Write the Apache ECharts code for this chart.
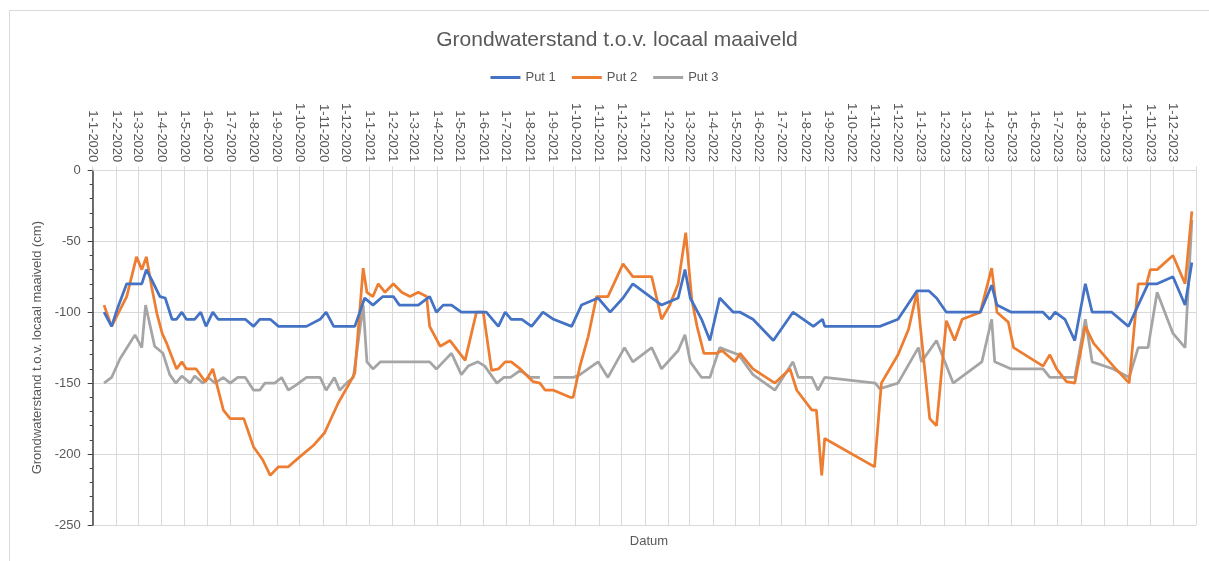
<!DOCTYPE html>
<html>
<head>
<meta charset="utf-8">
<script src="https://cdn.jsdelivr.net/npm/echarts@6/dist/echarts.min.js"></script>
<style>
  html, body { margin: 0; padding: 0; background: #fff; }
  #chart { width: 1209px; height: 561px; }
</style>
</head>
<body>
<div id="chart"></div>
<script>
const seriesNames = ['Put 1', 'Put 2', 'Put 3'];
const axisStart = '2020-01-01';
const axisEnd = '2024-01-01';

const put1Dates = ['2020-01-16','2020-01-26','2020-02-03','2020-02-15','2020-03-06','2020-03-12','2020-03-19','2020-03-30','2020-04-06','2020-04-15','2020-04-21','2020-04-28','2020-05-04','2020-05-15','2020-05-23','2020-05-30','2020-06-08','2020-06-15','2020-07-21','2020-08-01','2020-08-09','2020-08-23','2020-09-03','2020-10-10','2020-10-28','2020-11-05','2020-11-15','2020-12-13','2020-12-26','2021-01-06','2021-01-19','2021-02-02','2021-02-10','2021-03-07','2021-03-22','2021-03-31','2021-04-09','2021-04-20','2021-05-03','2021-06-05','2021-06-21','2021-06-30','2021-07-08','2021-07-22','2021-08-04','2021-08-19','2021-09-02','2021-09-26','2021-10-09','2021-10-31','2021-11-16','2021-12-03','2021-12-16','2022-01-23','2022-02-14','2022-02-23','2022-03-02','2022-03-17','2022-03-28','2022-04-10','2022-04-28','2022-05-07','2022-05-24','2022-06-20','2022-07-16','2022-08-12','2022-08-24','2022-08-27','2022-11-08','2022-12-02','2022-12-27','2023-01-12','2023-01-22','2023-02-04','2023-03-21','2023-04-05','2023-04-12','2023-05-01','2023-06-12','2023-06-21','2023-06-28','2023-07-11','2023-07-24','2023-08-07','2023-08-16','2023-09-11','2023-10-03','2023-10-16','2023-10-29','2023-11-10','2023-12-01','2023-12-17','2023-12-26'];
const put1Values = [-100,-110,-97,-80,-80,-70,-77,-89,-90,-105,-105,-100,-105,-105,-100,-110,-100,-105,-105,-110,-105,-105,-110,-110,-105,-100,-110,-110,-90,-95,-89,-89,-95,-95,-89,-100,-95,-95,-100,-100,-110,-100,-105,-105,-110,-100,-105,-110,-95,-90,-100,-90,-80,-95,-90,-70,-90,-105,-120,-90,-100,-100,-105,-120,-100,-110,-105,-110,-110,-105,-85,-85,-90,-100,-100,-81,-95,-100,-100,-105,-100,-105,-120,-80,-100,-100,-110,-95,-80,-80,-75,-95,-65];

const put2Dates = ['2020-01-16','2020-01-26','2020-02-15','2020-02-28','2020-03-06','2020-03-12','2020-03-19','2020-03-26','2020-04-02','2020-04-08','2020-04-21','2020-04-28','2020-05-04','2020-05-17','2020-05-29','2020-06-08','2020-06-22','2020-07-01','2020-07-19','2020-08-01','2020-08-13','2020-08-23','2020-09-03','2020-09-16','2020-10-01','2020-10-19','2020-11-03','2020-11-21','2020-12-06','2020-12-13','2020-12-24','2020-12-29','2021-01-06','2021-01-13','2021-01-22','2021-02-02','2021-02-13','2021-02-24','2021-03-07','2021-03-18','2021-03-22','2021-04-05','2021-04-18','2021-05-08','2021-05-23','2021-06-01','2021-06-12','2021-06-21','2021-06-30','2021-07-08','2021-07-20','2021-08-06','2021-08-15','2021-08-22','2021-09-02','2021-09-24','2021-09-28','2021-10-07','2021-10-18','2021-10-29','2021-11-13','2021-12-03','2021-12-16','2022-01-10','2022-01-23','2022-02-03','2022-02-14','2022-02-24','2022-03-04','2022-03-11','2022-03-20','2022-04-06','2022-04-13','2022-04-30','2022-05-07','2022-05-24','2022-06-22','2022-07-12','2022-07-21','2022-08-10','2022-08-16','2022-08-23','2022-08-27','2022-11-01','2022-11-10','2022-12-02','2022-12-16','2022-12-27','2023-01-13','2023-01-22','2023-02-04','2023-02-15','2023-02-25','2023-03-21','2023-04-05','2023-04-12','2023-04-27','2023-05-04','2023-06-12','2023-06-21','2023-06-30','2023-07-13','2023-07-24','2023-08-07','2023-08-18','2023-09-13','2023-10-04','2023-10-16','2023-10-27','2023-11-01','2023-11-10','2023-12-01','2023-12-17','2023-12-26'];
const put2Values = [-95,-110,-89,-61,-70,-61,-82,-101,-115,-122,-140,-135,-140,-140,-149,-140,-169,-175,-175,-195,-204,-215,-209,-209,-202,-194,-185,-164,-150,-143,-69,-86,-89,-80,-86,-80,-86,-89,-86,-89,-110,-124,-120,-134,-100,-100,-141,-140,-135,-135,-140,-149,-150,-155,-155,-160,-160,-138,-117,-89,-89,-66,-75,-75,-105,-95,-80,-44,-91,-110,-129,-129,-127,-135,-129,-140,-150,-140,-155,-169,-169,-215,-189,-209,-150,-130,-112,-86,-175,-180,-106,-120,-105,-100,-69,-100,-107,-125,-138,-130,-140,-149,-150,-110,-122,-138,-150,-80,-80,-70,-70,-60,-80,-29];

const put3Dates = ['2020-01-16','2020-01-26','2020-02-06','2020-02-26','2020-03-06','2020-03-11','2020-03-23','2020-04-03','2020-04-12','2020-04-20','2020-04-28','2020-05-09','2020-05-15','2020-05-26','2020-06-02','2020-06-11','2020-06-22','2020-07-01','2020-07-11','2020-07-21','2020-08-01','2020-08-09','2020-08-16','2020-08-29','2020-09-07','2020-09-16','2020-09-27','2020-10-10','2020-10-28','2020-11-05','2020-11-16','2020-11-23','2020-12-02','2020-12-11','2020-12-24','2020-12-29','2021-01-06','2021-01-16','2021-03-22','2021-03-31','2021-04-09','2021-04-20','2021-05-03','2021-05-12','2021-05-25','2021-06-03','2021-06-19','2021-06-28','2021-07-07','2021-07-20','2021-08-02','2021-08-15','2021-08-25','2021-09-02','2021-09-28','2021-10-07','2021-10-31','2021-11-13','2021-12-05','2021-12-16','2022-01-10','2022-01-23','2022-02-14','2022-02-23','2022-03-02','2022-03-17','2022-03-28','2022-04-10','2022-05-05','2022-05-24','2022-06-22','2022-07-16','2022-07-23','2022-08-10','2022-08-18','2022-08-27','2022-11-02','2022-11-08','2022-12-02','2022-12-29','2023-01-02','2023-01-22','2023-02-13','2023-03-23','2023-04-05','2023-04-09','2023-05-01','2023-06-12','2023-06-21','2023-07-24','2023-08-07','2023-08-16','2023-09-13','2023-10-04','2023-10-16','2023-10-29','2023-11-10','2023-12-01','2023-12-17','2023-12-26'];
const put3Values = [-150,-146,-133,-116,-125,-95,-124,-129,-144,-150,-145,-150,-145,-150,-146,-150,-146,-150,-146,-146,-155,-155,-150,-150,-146,-155,-151,-146,-146,-155,-146,-155,-150,-146,-95,-135,-140,-135,-135,-140,-135,-129,-144,-138,-135,-138,-150,-146,-146,-141,-146,-146,null,-146,-146,-144,-135,-146,-125,-135,-125,-140,-127,-116,-135,-146,-146,-125,-130,-144,-155,-135,-146,-146,-155,-146,-150,-154,-150,-125,-135,-120,-150,-135,-105,-135,-140,-140,-146,-146,-105,-135,-140,-146,-125,-125,-86,-115,-125,-35];

const yMin = -250, yMax = 0, yStep = 50;

function ts(s) {
  const p = s.split('-');
  return new Date(+p[0], +p[1] - 1, +p[2]).getTime();
}
function pairs(dates, values) {
  return dates.map((d, i) => [ts(d), values[i]]);
}
// month-start tick positions for the date axis
const monthTicks = [];
for (let y = 2020; y <= 2023; y++) {
  for (let m = 0; m < 12; m++) monthTicks.push(new Date(y, m, 1).getTime());
}
const gridTicks = monthTicks.concat([ts(axisEnd)]);

const textColor = '#595959';
const fontFamily = "'Liberation Sans', Arial, sans-serif";

const chart = echarts.init(document.getElementById('chart'));
chart.setOption({
  animation: false,
  textStyle: { fontFamily: fontFamily },
  color: ['#4472C4', '#ED7D31', '#A5A5A5'],
  graphic: [{
    type: 'rect', silent: true,
    shape: { x: 9.5, y: 10.5, width: 1210, height: 560 },
    style: { fill: 'none', stroke: '#d9d9d9', lineWidth: 1 }
  }],
  title: [{
    text: 'Grondwaterstand t.o.v. locaal maaiveld',
    left: 612, top: 25, textAlign: 'center',
    textStyle: { fontSize: 21, fontWeight: 'normal', color: textColor, fontFamily: fontFamily }
  }, {
    text: 'Datum',
    left: 644, top: 530, textAlign: 'center',
    textStyle: { fontSize: 13, fontWeight: 'normal', color: textColor, fontFamily: fontFamily }
  }],
  legend: {
    data: seriesNames,
    top: 66, left: 'center',
    icon: 'rect', itemWidth: 30, itemHeight: 3, itemGap: 16,
    textStyle: { fontSize: 13, color: textColor }
  },
  grid: { left: 92.7, right: 12.6, top: 170.3, bottom: 36, containLabel: false, outerBoundsMode: 'none' },
  xAxis: {
    type: 'value',
    position: 'top',
    min: ts(axisStart), max: ts(axisEnd),
    axisLine: { show: true, onZero: false, lineStyle: { color: '#d9d9d9', width: 1 } },
    axisTick: { show: true, length: 4, customValues: gridTicks, lineStyle: { color: '#d9d9d9' } },
    axisLabel: {
      customValues: monthTicks,
      rotate: 90, fontSize: 13, color: textColor, margin: 8,
      formatter: function (v) {
        const d = new Date(v);
        return '1-' + (d.getMonth() + 1) + '-' + d.getFullYear();
      }
    },
    splitLine: { show: true, lineStyle: { color: '#d9d9d9', width: 1 } }
  },
  yAxis: {
    type: 'value',
    min: yMin, max: yMax, interval: yStep,
    name: 'Grondwaterstand t.o.v. locaal maaiveld (cm)',
    nameLocation: 'middle', nameGap: 46,
    nameTextStyle: { fontSize: 13, color: textColor },
    axisLine: { show: true, onZero: false, lineStyle: { color: '#404040', width: 1.5 } },
    axisTick: { show: true, length: 5, lineStyle: { color: '#404040' } },
    minorTick: { show: true, splitNumber: 5, length: 3, lineStyle: { color: '#404040' } },
    axisLabel: { fontSize: 13, color: textColor, margin: 12 },
    splitLine: { show: true, lineStyle: { color: '#d9d9d9', width: 1 } }
  },
  series: [
    { name: seriesNames[0], type: 'line', data: pairs(put1Dates, put1Values), showSymbol: false, symbol: 'none', lineStyle: { width: 2.75 }, z: 4 },
    { name: seriesNames[1], type: 'line', data: pairs(put2Dates, put2Values), showSymbol: false, symbol: 'none', lineStyle: { width: 2.75 }, z: 3 },
    { name: seriesNames[2], type: 'line', data: pairs(put3Dates, put3Values), showSymbol: false, symbol: 'none', lineStyle: { width: 2.75 }, z: 2, connectNulls: false }
  ]
});
</script>
</body>
</html>
